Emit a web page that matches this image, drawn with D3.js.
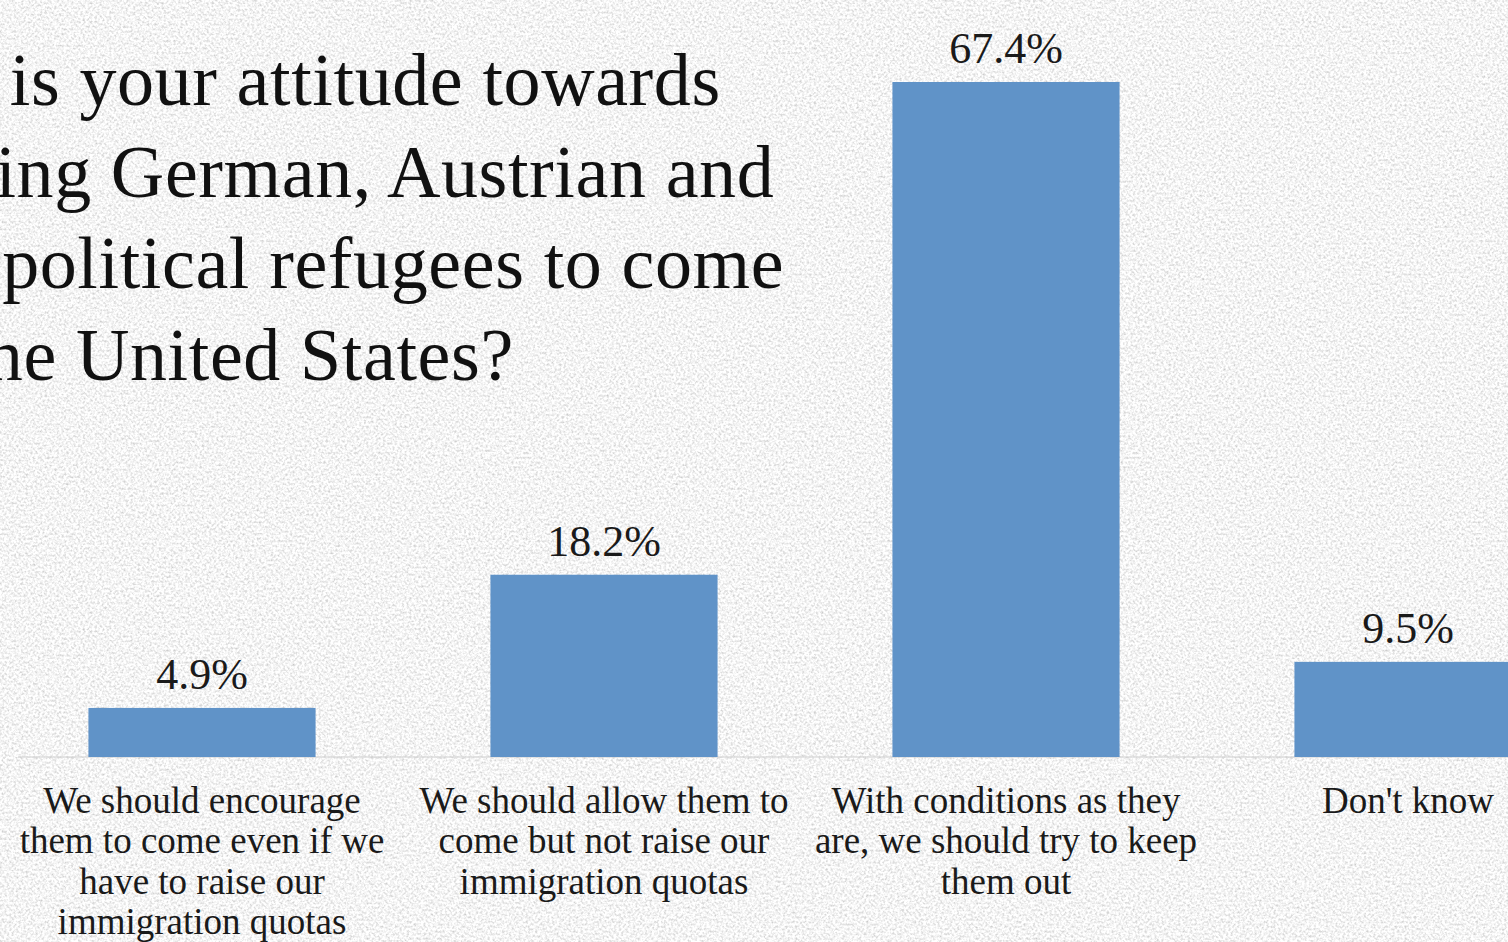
<!DOCTYPE html>
<html>
<head>
<meta charset="utf-8">
<script src="https://cdn.jsdelivr.net/npm/d3@7"></script>
<style>
  html, body { margin: 0; padding: 0; overflow: hidden; background: #e4e4e4; }
  svg { display: block; }
</style>
</head>
<body>
<script>
// ---- data ----
const titleLines = [
  "What is your attitude towards",
  "allowing German, Austrian and",
  "other political refugees to come",
  "into the United States?"
];
const categories = [
  ["We should encourage", "them to come even if we", "have to raise our", "immigration quotas"],
  ["We should allow them to", "come but not raise our", "immigration quotas"],
  ["With conditions as they", "are, we should try to keep", "them out"],
  ["Don't know"]
];
const values = [4.9, 18.2, 67.4, 9.5];

// ---- layout ----
const W = 1508, H = 942;
const baseY = 757;
const serif = "'Liberation Serif', 'Times New Roman', serif";

const svg = d3.select("body").append("svg").attr("width", W).attr("height", H);

// textured paper background
const defs = svg.append("defs");
const f = defs.append("filter").attr("id", "grain")
  .attr("x", 0).attr("y", 0).attr("width", W).attr("height", H)
  .attr("filterUnits", "userSpaceOnUse");
f.append("feTurbulence").attr("type", "fractalNoise").attr("baseFrequency", 0.42)
  .attr("numOctaves", 2).attr("seed", 7).attr("result", "n");
f.append("feColorMatrix").attr("type", "matrix")
  .attr("values", "0.8 0 0 0 0.51  0.8 0 0 0 0.51  0.8 0 0 0 0.51  0 0 0 0 1");
svg.append("rect").attr("width", W).attr("height", H).attr("fill", "#e6e6e6");
svg.append("rect").attr("width", W).attr("height", H).attr("filter", "url(#grain)");

const idx = values.map((d, i) => i);
const x = d3.scaleBand().domain(idx).range([1, 1609]).paddingInner(0.435).paddingOuter(0.2175);
const y = d3.scaleLinear().domain([0, 70]).range([baseY, baseY - 70 * 10.015]);

// baseline axis
const axis = svg.append("g").attr("transform", `translate(0,${baseY})`)
  .call(d3.axisBottom(x).tickSize(0).tickFormat(""));
axis.select(".domain").attr("stroke", "#cdcdcd").attr("stroke-width", 1.2)
  .attr("d", `M18,0H${W}`);

// bars
svg.append("g").selectAll("rect").data(values).join("rect")
  .attr("x", (d, i) => x(i))
  .attr("y", d => y(d))
  .attr("width", x.bandwidth())
  .attr("height", d => y(0) - y(d))
  .attr("fill", "#6093c8");

// value labels
svg.append("g").selectAll("text").data(values).join("text")
  .attr("x", (d, i) => x(i) + x.bandwidth() / 2)
  .attr("y", d => y(d) - 19)
  .attr("text-anchor", "middle")
  .attr("font-family", serif)
  .attr("font-size", 44)
  .attr("fill", "#1a1a1a")
  .text(d => d3.format(".1f")(d) + "%");

// category labels
const cat = svg.append("g").selectAll("text").data(categories).join("text")
  .attr("text-anchor", "middle")
  .attr("font-family", serif)
  .attr("font-size", 37)
  .attr("fill", "#1a1a1a");
cat.each(function(lines, i) {
  d3.select(this).selectAll("tspan").data(lines).join("tspan")
    .attr("x", x(i) + x.bandwidth() / 2)
    .attr("y", (d, j) => baseY + 56 + j * 40.3)
    .text(d => d);
});

// title
svg.append("text")
  .attr("font-family", serif)
  .attr("font-size", 74)
  .attr("letter-spacing", 0.6)
  .attr("fill", "#111")
  .selectAll("tspan").data(titleLines).join("tspan")
  .attr("x", -172)
  .attr("y", (d, i) => 105 + i * 91.7)
  .text(d => d);
</script>
</body>
</html>
